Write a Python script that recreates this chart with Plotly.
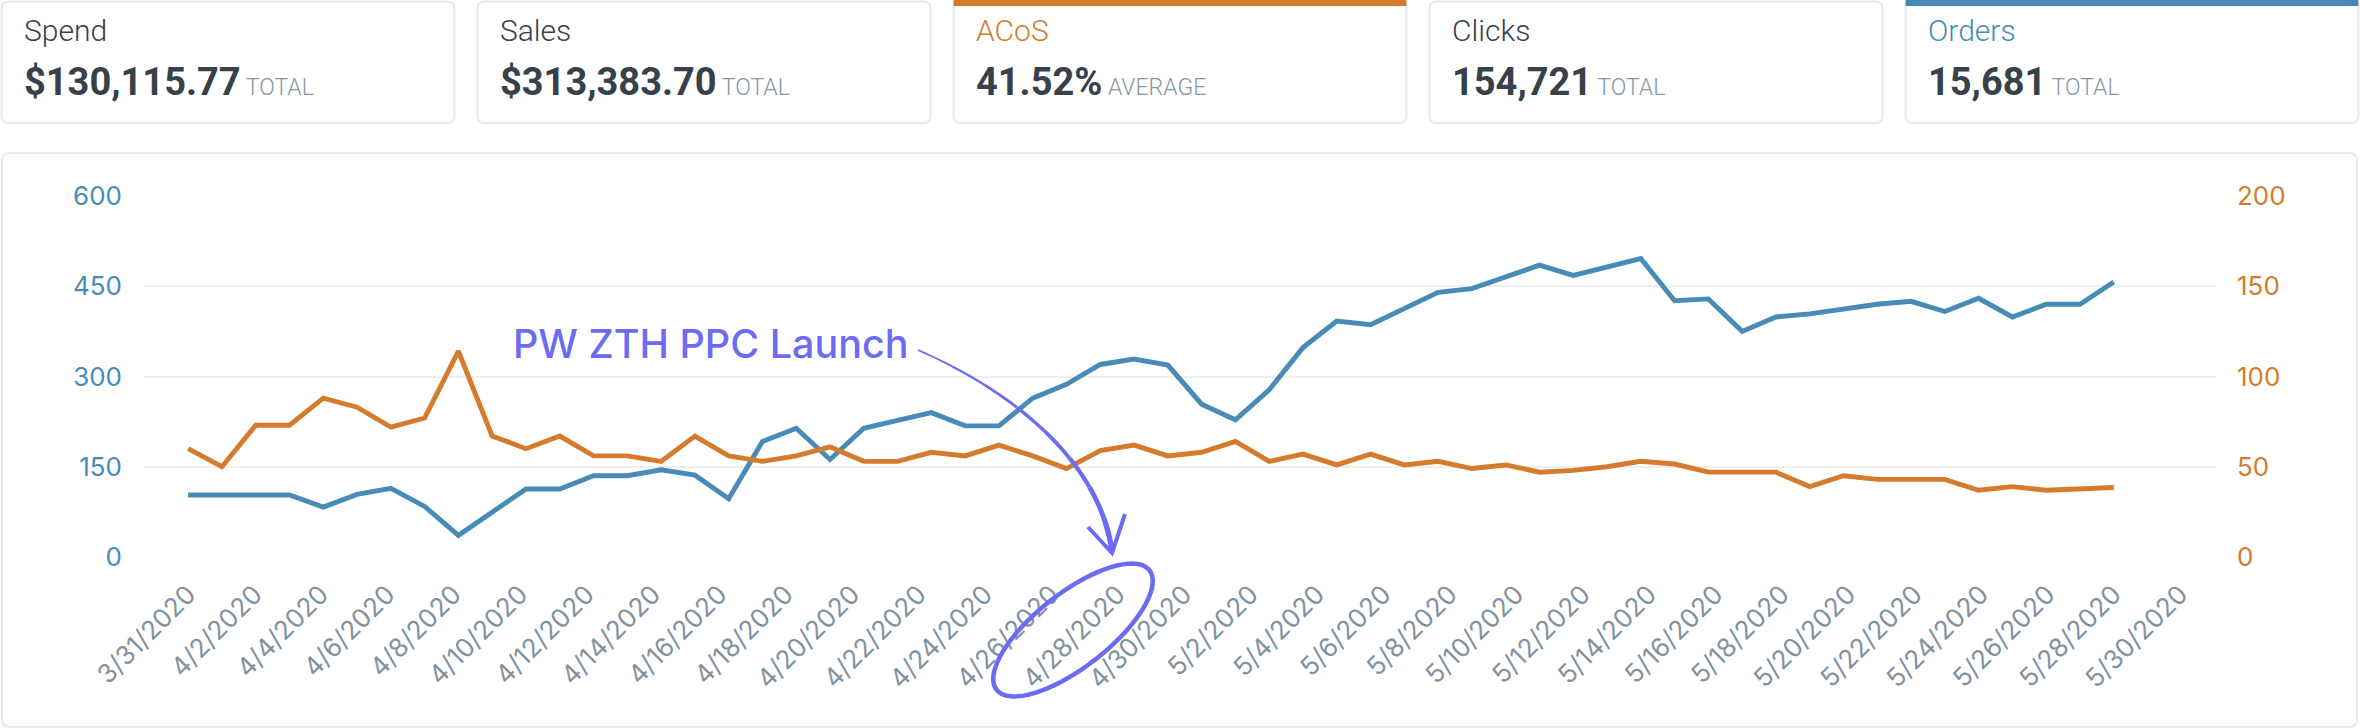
import numpy as np
import pandas as pd
import plotly.graph_objects as go

# ---------------- data ----------------
start_date = "2020-03-31"
end_date = "2020-05-28"

orders = [103, 103, 103, 103, 83, 104, 114, 84, 36, 75, 113, 113, 135, 135, 145,
          136, 97, 192, 214, 162, 214, 227, 240, 218, 218, 264, 287, 320, 329, 319, 254,
          228, 278, 348, 392, 386, 413, 440, 446, 465, 485, 468, 482, 496, 426, 429, 375,
          399, 404, 412, 420, 425, 408, 430, 399, 420, 420, 457]

acos = [60, 50, 73, 73, 88, 83, 72, 77, 114, 67, 60, 67, 56, 56, 53,
        67, 56, 53, 56, 61, 53, 53, 58, 56, 62, 56, 49, 59, 62, 56, 58,
        64, 53, 57, 51, 57, 51, 53, 49, 51, 47, 48, 50, 53, 51.5, 47, 47,
        47, 39, 45, 43, 43, 43, 37, 39, 37, 37.5, 38.5]

card_titles = ["Spend", "Sales", "ACoS", "Clicks", "Orders"]
card_values = ["$130,115.77", "$313,383.70", "41.52%", "154,721", "15,681"]
card_suffix = ["TOTAL", "TOTAL", "AVERAGE", "TOTAL", "TOTAL"]

left_ticks = [0, 150, 300, 450, 600]
right_ticks = [0, 50, 100, 150, 200]

annotation_text = "PW ZTH PPC Launch"
axis_first_tick = "2020-03-31"
axis_last_tick = "2020-05-30"

# ---------------- style ----------------
BLUE = "#488bb6"
ORANGE = "#d57b2e"
PURPLE = "#6c6cf2"
GRID = "#efefef"
BORDER = "#e7e9eb"
DARK = "#37414a"
MUTED = "#8a96a1"
FONT = "Inter"
CARD_FONT = "Roboto"

W, H = 2360, 728
L, R, T, B = 143, 2216, 196, 557   # plot area in pixels


def px(x):
    return (x - L) / (R - L)


def py(y):
    return (B - y) / (B - T)


def rrect_path(x0, y0, x1, y1, r):
    pts = [
        ("M", [(x0 + r, y0)]),
        ("L", [(x1 - r, y0)]),
        ("Q", [(x1, y0), (x1, y0 + r)]),
        ("L", [(x1, y1 - r)]),
        ("Q", [(x1, y1), (x1 - r, y1)]),
        ("L", [(x0 + r, y1)]),
        ("Q", [(x0, y1), (x0, y1 - r)]),
        ("L", [(x0, y0 + r)]),
        ("Q", [(x0, y0), (x0 + r, y0)]),
    ]
    s = ""
    for cmd, ps in pts:
        s += cmd + " " + " ".join(f"{px(a):.5f},{py(b):.5f}" for a, b in ps) + " "
    return s + "Z"


def poly_path(points, close=False):
    s = "M " + " L ".join(f"{px(a):.5f},{py(b):.5f}" for a, b in points)
    return s + (" Z" if close else "")


dates = pd.date_range(start_date, end_date, periods=len(orders))

fig = go.Figure()
fig.add_trace(go.Scatter(x=dates, y=acos, yaxis="y2", mode="lines",
                         line=dict(color=ORANGE, width=4.9), hoverinfo="skip",
                         showlegend=False))
fig.add_trace(go.Scatter(x=dates, y=orders, yaxis="y", mode="lines",
                         line=dict(color=BLUE, width=4.9), hoverinfo="skip",
                         showlegend=False))

shapes = []
annotations = []

# chart panel
shapes.append(dict(type="path", xref="paper", yref="paper", layer="below",
                   path=rrect_path(2, 153, 2357, 727, 8),
                   line=dict(color=BORDER, width=2), fillcolor="white"))

# KPI cards
card_w, gap, cx0 = 453, 23, 1.5
accents = {2: ORANGE, 4: BLUE}
title_colors = {2: ORANGE, 4: BLUE}
for i, (t, v, s) in enumerate(zip(card_titles, card_values, card_suffix)):
    x0 = cx0 + i * (card_w + gap)
    x1 = x0 + card_w
    shapes.append(dict(type="path", xref="paper", yref="paper", layer="below",
                       path=rrect_path(x0, 1.5, x1, 123, 7),
                       line=dict(color=BORDER, width=2), fillcolor="white"))
    if i in accents:
        shapes.append(dict(type="path", xref="paper", yref="paper", layer="above",
                           path=poly_path([(x0, 0), (x1, 0), (x1, 6), (x0, 6)], close=True),
                           line=dict(width=0), fillcolor=accents[i]))
    annotations.append(dict(xref="paper", yref="paper", x=px(x0 + 20), y=py(31),
                            xanchor="left", yanchor="middle", showarrow=False,
                            text=t, font=dict(family=CARD_FONT, size=30, weight=300,
                                              color=title_colors.get(i, DARK))))
    annotations.append(dict(xref="paper", yref="paper", x=px(x0 + 20), y=py(82),
                            xanchor="left", yanchor="middle", showarrow=False,
                            text=f"<b>{v}</b><span style='font-size:23px;font-weight:300;color:{MUTED}'> {s}</span>",
                            font=dict(family=CARD_FONT, size=38, color=DARK)))

# annotation label
annotations.append(dict(xref="paper", yref="paper", x=px(511), y=py(344),
                        xanchor="left", yanchor="middle", showarrow=False,
                        text=annotation_text,
                        font=dict(family=FONT, size=39.5, color=PURPLE, weight=500)))

# curved arrow (cubic bezier, thickening toward the tip)
P = np.array([[918, 350], [1010, 390], [1100, 460], [1112, 552]], dtype=float)
ts = np.linspace(0, 1, 41)
curve = ((1 - ts) ** 3)[:, None] * P[0] + (3 * (1 - ts) ** 2 * ts)[:, None] * P[1] \
    + (3 * (1 - ts) * ts ** 2)[:, None] * P[2] + (ts ** 3)[:, None] * P[3]
n_seg = 8
step = (len(curve) - 1) // n_seg
for k in range(n_seg):
    seg = curve[k * step:(k + 1) * step + 1]
    shapes.append(dict(type="path", xref="paper", yref="paper", layer="above",
                       path=poly_path([tuple(p) for p in seg]),
                       line=dict(color=PURPLE, width=1.8 + 0.5 * k)))
shapes.append(dict(type="path", xref="paper", yref="paper", layer="above",
                   path=poly_path([(1088, 527), (1112, 553), (1125, 514)]),
                   line=dict(color=PURPLE, width=4)))

# hand-drawn ellipse around the 4/28 label
th = np.linspace(0, 2 * np.pi, 73)
a, b, ang = 97, 37, np.deg2rad(38)
cxe, cye = 1073, 630
ex = cxe + a * np.cos(th) * np.cos(ang) + b * np.sin(th) * np.sin(ang)
ey = cye - a * np.cos(th) * np.sin(ang) + b * np.sin(th) * np.cos(ang)
shapes.append(dict(type="path", xref="paper", yref="paper", layer="above",
                   path=poly_path(list(zip(ex, ey)), close=True),
                   line=dict(color=PURPLE, width=4.5)))

day = pd.Timedelta(days=1)
x_range = [pd.Timestamp(axis_first_tick) - 1.36 * day,
           pd.Timestamp(axis_last_tick) + 1.08 * day]

fig.update_layout(
    width=W, height=H,
    margin=dict(l=L, r=W - R, t=T, b=H - B, pad=0),
    paper_bgcolor="white", plot_bgcolor="white",
    font=dict(family=FONT),
    shapes=shapes, annotations=annotations,
    showlegend=False,
    xaxis=dict(type="date", range=x_range, tick0=axis_first_tick,
               dtick=2 * 86400000, tickformat="%-m/%-d/%Y", tickangle=-45,
               showgrid=False, zeroline=False, showline=False, ticks="",
               ticklabelstandoff=16,
               tickfont=dict(family=FONT, size=26, color="#8292a0")),
    yaxis=dict(range=[0, 600], tickvals=left_ticks, showgrid=True,
               gridcolor=GRID, gridwidth=2, zeroline=False, showline=False,
               ticks="", ticklabelstandoff=20,
               tickfont=dict(family=FONT, size=26, color=BLUE)),
    yaxis2=dict(range=[0, 200], tickvals=right_ticks, overlaying="y",
                side="right", showgrid=False, zeroline=False, showline=False,
                ticks="", ticklabelstandoff=20,
                tickfont=dict(family=FONT, size=26, color=ORANGE)),
)

fig.write_html("out.html", config={"displayModeBar": False},
               post_script="document.body.style.margin='0';document.body.style.overflow='hidden';")
